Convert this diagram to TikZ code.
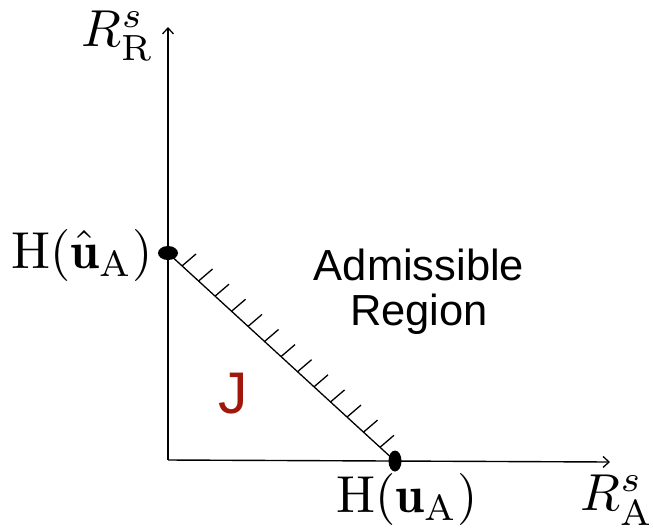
\documentclass[tikz,border=0pt]{standalone}
\usepackage{fontspec}
\newfontfamily\arial{Liberation Sans}
\usetikzlibrary{arrows.meta,shapes.geometric,calc}
\definecolor{jred}{RGB}{160,24,12}
\begin{document}
\begin{tikzpicture}[x=1pt,y=-1pt,
  axis/.style={line width=1.4pt,-{Straight Barb[length=6pt,width=11pt,line width=1.3pt]}},
  dot/.style={ellipse,fill=black,inner sep=0pt},
  hatchline/.style={line width=1.3pt},
  mathlbl/.style={inner sep=0pt,scale=5.2},
  sanslbl/.style={inner sep=0pt,scale=4.35,font=\arial\fontsize{10}{10.3}\selectfont,align=center}]
\useasboundingbox (0,0) rectangle (653,531);
\coordinate (O) at (168,460);
\coordinate (ytip) at (168,27);
\coordinate (xtip) at (610,462);
\draw[axis] (O) -- (ytip);
\draw[axis] (O) -- (xtip);
\node[dot,minimum width=20pt,minimum height=14pt] (top) at (168,253) {};
\node[dot,minimum width=13pt,minimum height=21pt] (bot) at (395,461) {};
\draw[line width=1.3pt] (top.center) -- (bot.center);
\foreach \t in {0.062,0.1347,0.2073,0.28,0.3527,0.4253,0.498,0.5707,0.6433,0.716,0.7887,0.8613,0.934}{
  \coordinate (h) at ($(top.center)!\t!(bot.center)$);
  \draw[hatchline] (h) -- ++(14,-12);
}
\node[mathlbl] (rr) at (118,36) {$R^{s}_{\mathrm{R}}$};
\node[mathlbl] (hua) at (82,255) {$\mathrm{H}(\hat{\mathbf{u}}_{\mathrm{A}})$};
\node[mathlbl] (hu) at (407,499) {$\mathrm{H}(\mathbf{u}_{\mathrm{A}})$};
\node[mathlbl] (ra) at (617,500) {$R^{s}_{\mathrm{A}}$};
\node[sanslbl] (adm) at (419,292) {Admissible\\Region};
\node[sanslbl,scale=1.35,text=jred] (j) at (233,394) {J};
\end{tikzpicture}
\end{document}
